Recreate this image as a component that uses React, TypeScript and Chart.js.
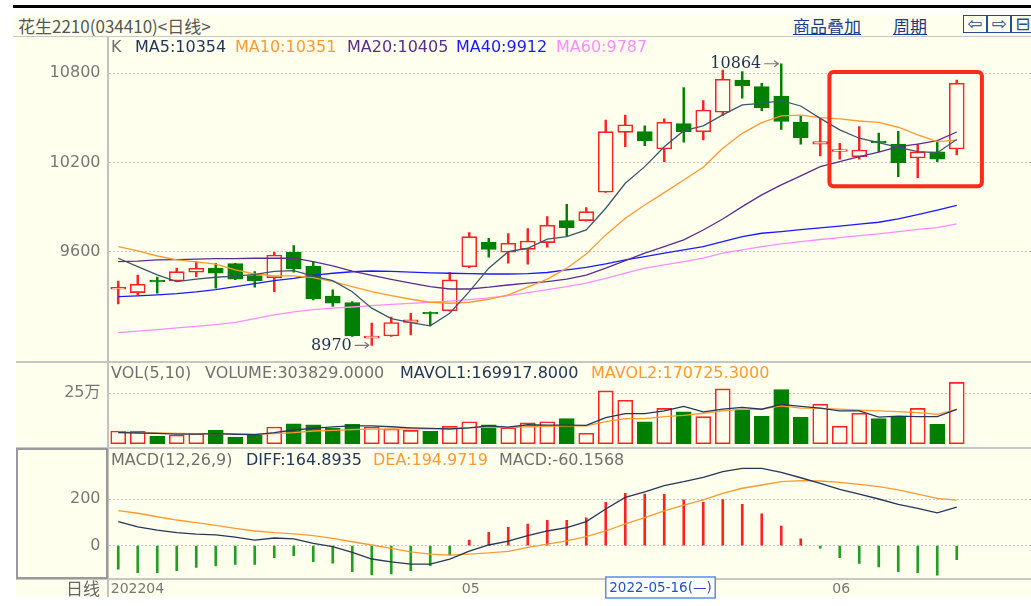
import React, { useEffect, useRef } from "react";
import { Chart, registerables } from "chart.js";

Chart.register(...registerables);

// ---------------- data ----------------
const dates = [
  "2022-04-06", "2022-04-07", "2022-04-08", "2022-04-11", "2022-04-12", "2022-04-13", "2022-04-14", "2022-04-15",
  "2022-04-18", "2022-04-19", "2022-04-20", "2022-04-21", "2022-04-22", "2022-04-25", "2022-04-26", "2022-04-27",
  "2022-04-28", "2022-04-29", "2022-05-05", "2022-05-06", "2022-05-09", "2022-05-10", "2022-05-11", "2022-05-12",
  "2022-05-13", "2022-05-16", "2022-05-17", "2022-05-18", "2022-05-19", "2022-05-20", "2022-05-23", "2022-05-24",
  "2022-05-25", "2022-05-26", "2022-05-27", "2022-05-30", "2022-05-31", "2022-06-01", "2022-06-02", "2022-06-06",
  "2022-06-07", "2022-06-08", "2022-06-09", "2022-06-10",
];
const opens = [
  9348, 9325, 9409, 9403, 9462, 9489, 9520, 9439, 9425, 9596, 9504, 9302, 9257, 9018, 9033, 9125,
  9192, 9202, 9499, 9663, 9596, 9616, 9661, 9809, 9809, 10000, 10403, 10407, 10291, 10461, 10407, 10538,
  10755, 10710, 10647, 10472, 10323, 10274, 10239, 10344, 10323, 10230, 10271, 10291,
];
const closes = [
  9360, 9381, 9397, 9466, 9489, 9455, 9415, 9405, 9578, 9484, 9284, 9253, 9033, 9033, 9123, 9141,
  9182, 9410, 9701, 9616, 9657, 9672, 9778, 9762, 9869, 10407, 10454, 10347, 10470, 10407, 10553, 10760,
  10715, 10569, 10477, 10367, 10340, 10286, 10284, 10332, 10199, 10271, 10222, 10733,
];
const highs = [
  9403, 9442, 9430, 9489, 9533, 9522, 9522, 9466, 9596, 9641, 9533, 9343, 9264, 9119, 9160, 9186,
  9195, 9459, 9728, 9690, 9721, 9755, 9836, 9919, 9896, 10486, 10518, 10446, 10493, 10703, 10616, 10822,
  10811, 10733, 10864, 10513, 10497, 10329, 10441, 10397, 10410, 10323, 10340, 10755,
];
const lows = [
  9248, 9309, 9321, 9400, 9432, 9354, 9412, 9361, 9331, 9462, 9275, 9231, 9030, 8970, 9030, 9040,
  9101, 9200, 9493, 9563, 9522, 9516, 9630, 9706, 9806, 9998, 10306, 10313, 10205, 10336, 10351, 10515,
  10632, 10549, 10423, 10323, 10244, 10222, 10222, 10273, 10105, 10098, 10205, 10251,
];
const ma5 = [
  9556, 9500, 9444, 9399, 9415, 9428, 9436, 9447, 9468, 9472, 9436, 9405, 9331, 9220, 9150, 9123,
  9101, 9186, 9331, 9489, 9600, 9623, 9684, 9701, 9746, 9892, 10060, 10172, 10306, 10414, 10446, 10520,
  10587, 10598, 10616, 10580, 10497, 10419, 10363, 10333, 10302, 10273, 10266, 10354,
];
const ma10 = [
  9634, 9605, 9571, 9545, 9531, 9516, 9477, 9450, 9437, 9437, 9426, 9399, 9365, 9331, 9305, 9280,
  9260, 9253, 9260, 9280, 9309, 9361, 9415, 9489, 9585, 9713, 9825, 9914, 9997, 10082, 10168, 10296,
  10396, 10468, 10513, 10518, 10502, 10493, 10479, 10470, 10437, 10385, 10340, 10351,
];
const ma20 = [
  9533, 9536, 9545, 9547, 9550, 9553, 9553, 9556, 9556, 9556, 9533, 9504, 9470, 9440, 9413, 9388,
  9365, 9349, 9349, 9361, 9376, 9388, 9399, 9415, 9442, 9489, 9540, 9590, 9634, 9679, 9746, 9820,
  9903, 9982, 10049, 10110, 10172, 10206, 10239, 10269, 10306, 10324, 10347, 10405,
];
const ma40 = [
  9298, 9303, 9310, 9318, 9330, 9345, 9365, 9385, 9405, 9420, 9440, 9455, 9465, 9470, 9468, 9463,
  9458, 9455, 9452, 9450, 9450, 9452, 9460, 9478, 9495, 9518, 9545, 9567, 9590, 9612, 9634, 9668,
  9701, 9724, 9735, 9748, 9760, 9772, 9785, 9798, 9820, 9850, 9880, 9912,
];
const ma60 = [
  9056, 9066, 9076, 9087, 9098, 9110, 9125, 9150, 9175, 9195, 9210, 9220, 9228, 9237, 9246, 9252,
  9260, 9268, 9278, 9290, 9305, 9325, 9345, 9365, 9388, 9421, 9455, 9489, 9511, 9533, 9556, 9590,
  9612, 9634, 9652, 9668, 9682, 9695, 9708, 9720, 9735, 9750, 9762, 9787,
];
const volumes = [
  63000, 63000, 38000, 43000, 51000, 66000, 33000, 41000, 83000, 99000, 94000, 76000, 96000, 83000, 73000, 66000,
  61000, 86000, 109000, 94000, 79000, 104000, 109000, 124000, 52000, 262000, 215000, 108000, 175000, 158000, 134000, 272000,
  168000, 136000, 269000, 131000, 196000, 87000, 151000, 124000, 131000, 175000, 96000, 303829,
];
const mavol1 = [
  55000, 53000, 51000, 48000, 48000, 50000, 47000, 45000, 55000, 68000, 76000, 83000, 88000, 88000, 84000, 79000,
  76000, 73000, 79000, 88000, 82000, 94000, 92000, 92000, 91000, 129000, 149000, 149000, 163000, 185000, 158000, 171000,
  180000, 171000, 195000, 185000, 176000, 163000, 163000, 132000, 137000, 134000, 134000, 169918,
];
const mavol2 = [
  57000, 56000, 54000, 51000, 50000, 50000, 48000, 47000, 50000, 55000, 63000, 66000, 70000, 72000, 73000, 74000,
  74000, 77000, 80000, 82000, 80000, 84000, 86000, 88000, 88000, 109000, 124000, 124000, 134000, 141000, 151000, 163000,
  171000, 171000, 188000, 176000, 175000, 171000, 166000, 163000, 159000, 154000, 146000, 170725,
];
const diffs = [
  103, 81, 67, 56, 50, 46, 37, 24, 33, 29, 10, -4, -29, -57, -69, -79,
  -79, -57, -23, 3, 20, 43, 63, 77, 103, 157, 207, 231, 257, 274, 293, 317,
  331, 331, 314, 291, 267, 241, 221, 200, 177, 160, 141, 164.89,
];
const deas = [
  150, 139, 124, 110, 99, 87, 74, 63, 56, 51, 43, 31, 17, 3, -11, -26,
  -36, -40, -36, -31, -24, -7, 7, 21, 39, 63, 93, 120, 149, 174, 196, 224,
  246, 260, 274, 279, 277, 271, 263, 253, 239, 221, 203, 194.97,
];
const macds = [
  -100, -116, -116, -107, -93, -87, -80, -80, -51, -43, -68, -75, -111, -125, -121, -107,
  -86, -40, 24, 57, 79, 93, 109, 109, 119, 186, 224, 221, 220, 196, 186, 197,
  177, 137, 84, 29, -11, -51, -76, -91, -111, -116, -126, -60.16,
];
const priceTicks = [9600, 10200, 10800];
const volumeTicks = [250000];
const volumeTickLabels = ["25万"];
const macdTicks = [0, 200];
const monthTickIndex = [0, 18, 37];
const monthTickLabels = ["202204", "05", "06"];
const cursorIndex = 25;
const cursorLabel = "2022-05-16(—)";
const highlightBox = { from: 36.47, to: 44.29, top: 10809, bottom: 10040 };

// ---------------- styles ----------------
const CREAM = "#ffffee";
const RED = "#ff2222";
const GREEN = "#008000";
const STICK_GREEN = "#229e22";
const NAVY = "#22375a";
const ORANGE = "#ff9a30";
const PURPLE = "#5b2d8e";
const BLUE = "#1a1aff";
const PINK = "#ff8cff";
const MA5C = "#3a5670";
const GRAY_TXT = "#707070";
const FONT = "'DejaVu Sans', 'Noto Sans CJK SC', sans-serif";

const CANVAS_W = 1015;
const AXIS_W = 92.5;
const SLOT = 19.5;
const X_MIN = -0.5;
const X_MAX = -0.5 + (CANVAS_W - AXIS_W) / SLOT;

const idx = dates.map((_, i) => i);
const isUp = idx.map((i) => closes[i] >= opens[i]);

function zeroPad(s: any) {
  s.paddingTop = 0;
  s.paddingBottom = 0;
  s.paddingLeft = 0;
  s.paddingRight = 0;
}

function xAxis(display: boolean, extra: any = {}) {
  return {
    type: "linear",
    min: X_MIN,
    max: X_MAX,
    offset: false,
    display,
    grid: { display: false },
    border: { display: false },
    afterFit(s: any) {
      zeroPad(s);
    },
    ...extra,
  };
}

function yAxis(min: number, max: number, ticks: number[], fmt: (v: number) => string) {
  return {
    type: "linear",
    position: "left",
    min,
    max,
    afterFit(s: any) {
      s.width = AXIS_W;
      zeroPad(s);
    },
    afterBuildTicks(s: any) {
      s.ticks = ticks.map((v) => ({ value: v }));
    },
    grid: { color: "#c4c4c4", lineWidth: 1, drawTicks: false },
    border: { display: false, dash: [2, 2] },
    ticks: {
      color: "#777",
      font: { family: FONT, size: 16 },
      padding: 8,
      callback: (v: number) => fmt(v),
    },
  };
}

const baseOptions = {
  responsive: false,
  animation: false,
  events: [],
  layout: { padding: 0 },
  plugins: { legend: { display: false }, tooltip: { enabled: false } },
};

const mainMarks = {
  id: "mainMarks",
  afterDatasetsDraw(chart: any) {
    const { ctx } = chart;
    const x = chart.scales.x;
    const y = chart.scales.y;
    ctx.save();
    const l = x.getPixelForValue(highlightBox.from);
    const r = x.getPixelForValue(highlightBox.to);
    const t = y.getPixelForValue(highlightBox.top);
    const b = y.getPixelForValue(highlightBox.bottom);
    ctx.strokeStyle = "#ff2a1a";
    ctx.lineWidth = 4;
    ctx.beginPath();
    ctx.roundRect(l, t, r - l, b - t, 4);
    ctx.stroke();

    const mark = (i: number, v: number) => {
      const cx = x.getPixelForValue(i);
      const cy = y.getPixelForValue(v);
      ctx.font = "16px 'DejaVu Serif'";
      ctx.fillStyle = "#1e3250";
      ctx.textAlign = "right";
      ctx.textBaseline = "middle";
      ctx.fillText(String(v), cx - 20, cy);
      ctx.strokeStyle = "#777";
      ctx.lineWidth = 1.2;
      ctx.beginPath();
      ctx.moveTo(cx - 17, cy);
      ctx.lineTo(cx - 3, cy);
      ctx.moveTo(cx - 7, cy - 3);
      ctx.lineTo(cx - 3, cy);
      ctx.lineTo(cx - 7, cy + 3);
      ctx.stroke();
    };
    const hiMax = Math.max(...highs);
    const loMin = Math.min(...lows);
    mark(highs.indexOf(hiMax), hiMax);
    mark(lows.indexOf(loMin), loMin);
    ctx.restore();
  },
};

const cursorMark = {
  id: "cursorMark",
  afterDraw(chart: any) {
    const { ctx } = chart;
    const x = chart.scales.x;
    const cx = x.getPixelForValue(cursorIndex);
    const top = chart.chartArea.bottom - 1;
    ctx.save();
    ctx.font = `13.5px ${FONT}`;
    const w = ctx.measureText(cursorLabel).width + 7;
    ctx.fillStyle = "#ffffff";
    ctx.fillRect(cx, top, w, 21);
    ctx.strokeStyle = "#5a8ee8";
    ctx.lineWidth = 1.5;
    ctx.strokeRect(cx, top, w, 21);
    ctx.fillStyle = "#2452c4";
    ctx.textAlign = "left";
    ctx.textBaseline = "middle";
    ctx.fillText(cursorLabel, cx + 3.5, top + 11);
    ctx.restore();
  },
};

function lineDs(values: number[], color: string, width = 1.3) {
  return {
    type: "line",
    data: idx.map((i) => ({ x: i, y: values[i] })),
    borderColor: color,
    borderWidth: width,
    pointRadius: 0,
    tension: 0,
    order: 1,
  };
}

function mainConfig(): any {
  return {
    type: "bar",
    data: {
      datasets: [
        {
          type: "bar",
          data: idx.map((i) => ({ x: i, y: [lows[i], highs[i]] })),
          backgroundColor: idx.map((i) => (isUp[i] ? RED : GREEN)),
          borderWidth: 0,
          barThickness: 1.8,
          grouped: false,
          order: 3,
        },
        {
          type: "bar",
          data: idx.map((i) => ({ x: i, y: [opens[i], closes[i]] })),
          backgroundColor: idx.map((i) => (isUp[i] ? CREAM : GREEN)),
          borderColor: idx.map((i) => (isUp[i] ? RED : GREEN)),
          borderWidth: 1.6,
          borderSkipped: false,
          barThickness: 15,
          grouped: false,
          order: 2,
        },
        lineDs(ma5, MA5C),
        lineDs(ma10, ORANGE),
        lineDs(ma20, PURPLE),
        lineDs(ma40, BLUE),
        lineDs(ma60, PINK),
      ],
    },
    options: {
      ...baseOptions,
      scales: {
        x: xAxis(false),
        y: yAxis(8858, 11044, priceTicks, (v) => String(v)),
      },
    },
    plugins: [mainMarks],
  };
}

function volConfig(): any {
  return {
    type: "bar",
    data: {
      datasets: [
        {
          type: "bar",
          data: idx.map((i) => ({ x: i, y: volumes[i] })),
          backgroundColor: idx.map((i) => (isUp[i] ? CREAM : GREEN)),
          borderColor: idx.map((i) => (isUp[i] ? RED : GREEN)),
          borderWidth: 1.6,
          borderSkipped: false,
          barThickness: 15,
          grouped: false,
          order: 2,
        },
        lineDs(mavol1, NAVY),
        lineDs(mavol2, ORANGE),
      ],
    },
    options: {
      ...baseOptions,
      scales: {
        x: xAxis(false),
        y: yAxis(-21300, 405200, volumeTicks, (v) => volumeTickLabels[volumeTicks.indexOf(v)] ?? ""),
      },
    },
  };
}

function macdConfig(): any {
  return {
    type: "bar",
    data: {
      datasets: [
        {
          type: "bar",
          data: idx.map((i) => ({ x: i, y: macds[i] })),
          backgroundColor: idx.map((i) => (macds[i] >= 0 ? RED : STICK_GREEN)),
          borderWidth: 0,
          barThickness: 2,
          grouped: false,
          order: 2,
        },
        lineDs(diffs, NAVY),
        lineDs(deas, ORANGE),
      ],
    },
    options: {
      ...baseOptions,
      scales: {
        x: xAxis(true, {
          position: "bottom",
          afterFit(s: any) {
            s.height = 22;
            zeroPad(s);
          },
          afterBuildTicks(s: any) {
            s.ticks = monthTickIndex.map((i) => ({ value: i - 0.385 }));
          },
          ticks: {
            autoSkip: false,
            maxRotation: 0,
            minRotation: 0,
            align: "start",
            padding: -5,
            color: "#777",
            font: { family: FONT, size: 14 },
            callback: (_v: number, i: number) => monthTickLabels[i],
          },
        }),
        y: yAxis(-138.3, 418.4, macdTicks, (v) => String(v)),
      },
    },
    plugins: [cursorMark],
  };
}

const abs = (s: React.CSSProperties): React.CSSProperties => ({ position: "absolute", ...s });

function Legend({ top, items }: { top: number; items: [number, string, string][] }) {
  return (
    <>
      {items.map(([left, text, color], k) => (
        <div
          key={k}
          style={abs({ left, top, height: 18, lineHeight: "18px", fontSize: 16, fontFamily: FONT, color, whiteSpace: "nowrap" })}
        >
          {text}
        </div>
      ))}
    </>
  );
}

export default function App() {
  const mainRef = useRef<HTMLCanvasElement>(null);
  const volRef = useRef<HTMLCanvasElement>(null);
  const macdRef = useRef<HTMLCanvasElement>(null);

  useEffect(() => {
    Chart.defaults.font.family = FONT;
    const charts = [
      new Chart(mainRef.current as HTMLCanvasElement, mainConfig()),
      new Chart(volRef.current as HTMLCanvasElement, volConfig()),
      new Chart(macdRef.current as HTMLCanvasElement, macdConfig()),
    ];
    return () => charts.forEach((c) => c.destroy());
  }, []);

  const hline = (top: number) => (
    <div style={abs({ left: 16, top, width: 1015, height: 1.5, background: "#c6c6c6" })} />
  );

  return (
    <div style={abs({ left: 0, top: 0, width: 1031, height: 606, background: "#ffffff", overflow: "hidden", fontFamily: FONT })}>
      <div style={abs({ left: 13, top: 5, width: 1018, height: 3, background: "#000" })} />
      <div style={abs({ left: 13, top: 15, width: 1018, height: 21, background: CREAM })} />
      <div
        style={abs({ left: 18, top: 15, height: 21, lineHeight: "21px", fontSize: 17, color: "#555", fontFamily: "'Noto Sans CJK SC'", whiteSpace: "nowrap" })}
      >
        花生2210(034410)&lt;日线&gt;
      </div>
      <div style={abs({ left: 793, top: 15, height: 21, lineHeight: "21px", fontSize: 17, color: "#1a3a8a", fontFamily: "'Noto Sans CJK SC'", textDecoration: "underline" })}>
        商品叠加
      </div>
      <div style={abs({ left: 893, top: 15, height: 21, lineHeight: "21px", fontSize: 17, color: "#1a3a8a", fontFamily: "'Noto Sans CJK SC'", textDecoration: "underline" })}>
        周期
      </div>
      {["⇦", "⇨", "⊟"].map((g, k) => (
        <div
          key={k}
          style={abs({ left: 963 + k * 24, top: 15, width: 24, height: 18, boxSizing: "border-box", border: "1.5px solid #2a4a8a", color: "#2a4a8a", fontSize: 18, lineHeight: "15px", textAlign: "center", background: CREAM, overflow: "hidden" })}
        >
          {g}
        </div>
      ))}
      <div style={abs({ left: 13, top: 36, width: 1018, height: 1, background: "#c8c8c8" })} />
      <div style={abs({ left: 16, top: 37, width: 1015, height: 560, background: CREAM })} />
      <div style={abs({ left: 107, top: 37, width: 2, height: 560, background: "#c2c2c2" })} />
      {hline(361)}
      {hline(447)}
      {hline(578)}
      <div style={abs({ left: 16, top: 448, width: 92, height: 131, boxSizing: "border-box", border: "2px solid #9a9a9a" })} />

      <canvas ref={mainRef} width={CANVAS_W} height={325} style={abs({ left: 16, top: 37, width: CANVAS_W, height: 325 })} />
      <canvas ref={volRef} width={CANVAS_W} height={86} style={abs({ left: 16, top: 362, width: CANVAS_W, height: 86 })} />
      <canvas ref={macdRef} width={CANVAS_W} height={152} style={abs({ left: 16, top: 448, width: CANVAS_W, height: 152 })} />

      <Legend
        top={38}
        items={[
          [111, "K", GRAY_TXT],
          [135, "MA5:10354", NAVY],
          [235, "MA10:10351", ORANGE],
          [347, "MA20:10405", PURPLE],
          [456, "MA40:9912", BLUE],
          [556, "MA60:9787", PINK],
        ]}
      />
      <Legend
        top={364}
        items={[
          [111, "VOL(5,10)", GRAY_TXT],
          [205, "VOLUME:303829.0000", GRAY_TXT],
          [400, "MAVOL1:169917.8000", NAVY],
          [591, "MAVOL2:170725.3000", ORANGE],
        ]}
      />
      <Legend
        top={451}
        items={[
          [111, "MACD(12,26,9)", GRAY_TXT],
          [246, "DIFF:164.8935", NAVY],
          [373, "DEA:194.9719", ORANGE],
          [499, "MACD:-60.1568", GRAY_TXT],
        ]}
      />
      <div style={abs({ left: 40, width: 60, top: 579, height: 18, lineHeight: "18px", textAlign: "right", fontSize: 17, color: "#666", fontFamily: "'Noto Sans CJK SC'" })}>
        日线
      </div>
    </div>
  );
}
